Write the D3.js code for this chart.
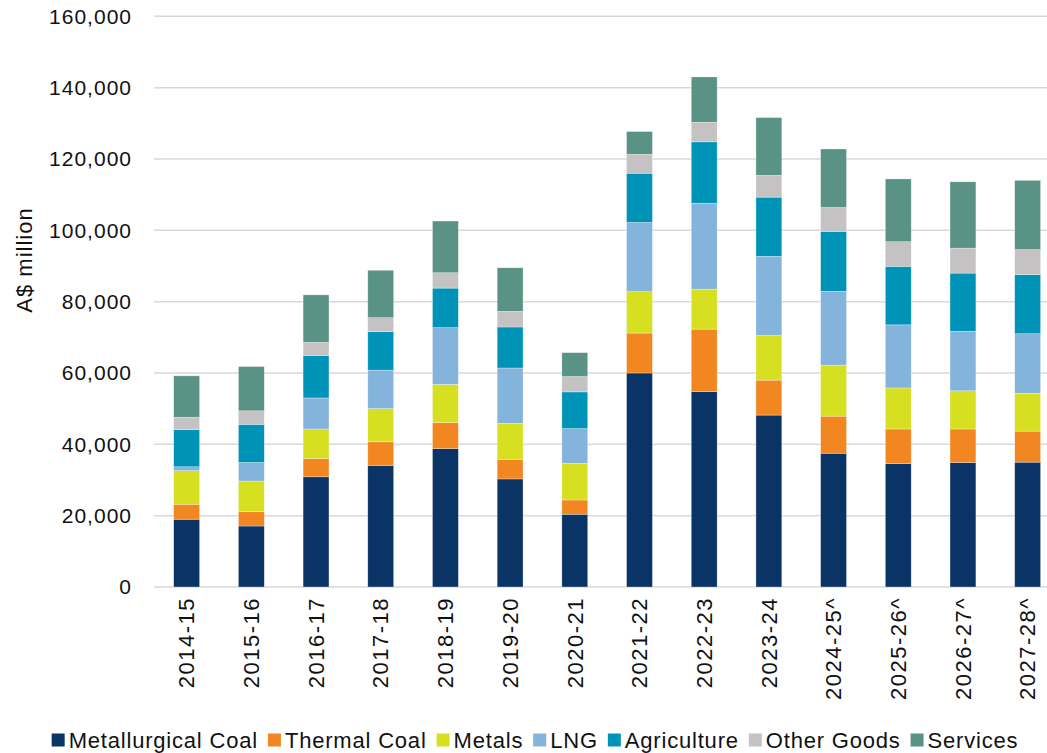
<!DOCTYPE html>
<meta charset="utf-8">
<style>
body { margin: 0; background: #fff; }
svg { font-family: "Liberation Sans", Arial, sans-serif; }
.grid line { stroke: #d9d9d9; stroke-width: 1.5px; }
.axis text { fill: #111; }
.y-axis text { font-size: 21px; letter-spacing: 1px; }
.x-axis text { font-size: 22px; letter-spacing: 1.5px; }
.legend text { fill: #111; font-size: 22px; letter-spacing: 0.8px; }
</style>
<svg width="1047" height="753"></svg>
<script src="https://cdn.jsdelivr.net/npm/d3@7/dist/d3.min.js"></script>
<script>
var years = ["2014-15", "2015-16", "2016-17", "2017-18", "2018-19", "2019-20", "2020-21",
             "2021-22", "2022-23", "2023-24", "2024-25^", "2025-26^", "2026-27^", "2027-28^"];
var series = ["Metallurgical Coal", "Thermal Coal", "Metals", "LNG", "Agriculture", "Other Goods", "Services"];
var colors = ["#0b3466", "#f28722", "#d7df21", "#84b3dc", "#0093b8", "#c4c2c3", "#5a9285"];

// A$ million
var metCoal  = [19000, 17100, 30900, 34100, 38800, 30300, 20400, 60000, 54800, 48200, 37500, 34600, 34900, 35000];
var thermal  = [4200, 4000, 5100, 6600, 7300, 5500, 4000, 11200, 17500, 9800, 10400, 9700, 9400, 8700];
var metals   = [9400, 8600, 8300, 9300, 10700, 10100, 10300, 11600, 11200, 12500, 14300, 11500, 10700, 10600];
var lng      = [1100, 5200, 8700, 10800, 15900, 15500, 9700, 19400, 24100, 22200, 20700, 17700, 16700, 16700];
var agri     = [10400, 10700, 11900, 10800, 11100, 11500, 10300, 13800, 17200, 16600, 16800, 16400, 16300, 16600];
var otherG   = [3500, 3800, 3700, 3900, 4300, 4400, 4300, 5300, 5500, 6100, 6700, 6900, 7000, 7000];
var services = [11600, 12400, 13300, 13300, 14500, 12200, 6700, 6400, 12700, 16200, 16400, 17600, 18600, 19400];
var yTicks = [0, 20000, 40000, 60000, 80000, 100000, 120000, 140000, 160000];

var values = [metCoal, thermal, metals, lng, agri, otherG, services];
var table = years.map(function(y, i) {
  var row = {year: y};
  series.forEach(function(s, j) { row[s] = values[j][i]; });
  return row;
});

var svg = d3.select("svg");

var x = d3.scaleBand()
    .domain(years)
    .range([154.3, 1060])
    .paddingInner(0.6)
    .paddingOuter(0.3);
var y = d3.scaleLinear()
    .domain([0, 160000])
    .range([587, 16.3]);
var color = d3.scaleOrdinal().domain(series).range(colors);

// gridlines
svg.append("g")
    .attr("class", "grid")
  .selectAll("line")
  .data(yTicks)
  .enter().append("line")
    .attr("x1", 154)
    .attr("x2", 1060)
    .attr("y1", function(d) { return y(d); })
    .attr("y2", function(d) { return y(d); });

var stack = d3.stack().keys(series);

svg.append("g")
  .selectAll("g")
  .data(stack(table))
  .enter().append("g")
    .attr("fill", function(d) { return color(d.key); })
  .selectAll("rect")
  .data(function(d) { return d; })
  .enter().append("rect")
    .attr("x", function(d) { return x(d.data.year); })
    .attr("width", x.bandwidth())
    .attr("y", function(d) { return y(d[1]); })
    .attr("height", function(d) { return y(d[0]) - y(d[1]); })
    .attr("stroke", "#fff")
    .attr("stroke-opacity", 0.5)
    .attr("stroke-width", 0.6);

// y axis
var yAxis = svg.append("g")
    .attr("class", "axis y-axis")
    .attr("transform", "translate(154,0)")
    .call(d3.axisLeft(y).tickValues(yTicks).tickFormat(d3.format(",")).tickSize(0).tickPadding(22));
yAxis.select(".domain").remove();

// x axis
var xAxis = svg.append("g")
    .attr("class", "axis x-axis")
    .attr("transform", "translate(0,587)")
    .call(d3.axisBottom(x).tickSize(0).tickPadding(0));
xAxis.select(".domain").remove();
xAxis.selectAll("text")
    .attr("transform", "rotate(-90)")
    .attr("text-anchor", "end")
    .attr("x", -10)
    .attr("y", 0)
    .attr("dy", "0.35em");

svg.append("text")
    .attr("transform", "translate(24,260) rotate(-90)")
    .attr("text-anchor", "middle")
    .attr("dy", "0.35em")
    .style("font-size", "22px")
    .style("letter-spacing", "1px")
    .style("fill", "#111")
    .text("A$ million");

// legend
var legend = svg.append("g").attr("class", "legend");
var lx = 0;
series.forEach(function(s, i) {
  var item = legend.append("g").attr("transform", "translate(" + lx + ",0)");
  item.append("rect")
      .attr("x", 0).attr("y", -6.5)
      .attr("width", 13).attr("height", 13)
      .attr("fill", colors[i]);
  var t = item.append("text")
      .attr("x", 17)
      .attr("dy", "0.35em")
      .text(s);
  lx += 17 + t.node().getComputedTextLength() + 10;
});
legend.attr("transform", "translate(" + (535 - (lx - 10) / 2) + ",740)");
</script>
